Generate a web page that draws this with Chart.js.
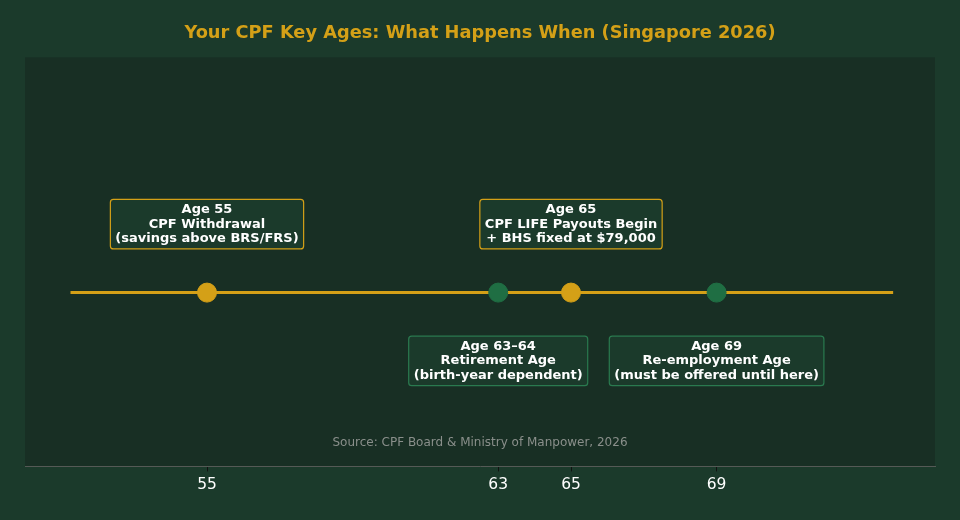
<!DOCTYPE html>
<html>
<head>
<meta charset="utf-8">
<script src="https://cdn.jsdelivr.net/npm/chart.js@4/dist/chart.umd.min.js"></script>
<style>
  html, body { margin: 0; padding: 0; background: #1b3a2b; }
  #wrap { width: 960px; height: 520px; }
</style>
</head>
<body>
<div id="wrap"><canvas id="myChart"></canvas></div>
<script>
  // key ages on the timeline
  const ages = [55, 63, 65, 69];
  const ageColors = ["#d4a017", "#1f6e43", "#d4a017", "#1f6e43"];
  const tickAges = [55, 63, 65, 69];
  const lineSpan = [51.25, 73.85];

  // labels: which age they sit over, text lines, side (1 above, -1 below)
  const labelAges = [55, 65, 63, 69];
  const labelSides = [1, 1, -1, -1];
  const labelBorders = ["#d4a017", "#d4a017", "#2a7a4f", "#2a7a4f"];
  const labelTexts = [
    ["Age 55", "CPF Withdrawal", "(savings above BRS/FRS)"],
    ["Age 65", "CPF LIFE Payouts Begin", "+ BHS fixed at $79,000"],
    ["Age 63\u201364", "Retirement Age", "(birth-year dependent)"],
    ["Age 69", "Re-employment Age", "(must be offered until here)"]
  ];
  const sourceText = "Source: CPF Board & Ministry of Manpower, 2026";

  const bgPlugin = {
    id: "plotBg",
    beforeDraw(chart) {
      const { ctx, chartArea: a } = chart;
      ctx.save();
      ctx.fillStyle = "#182f24";
      ctx.fillRect(a.left, a.top, a.right - a.left, a.bottom - a.top);
      ctx.restore();
    }
  };

  // boxes with text, placed through the scales
  const labelPlugin = {
    id: "boxLabels",
    afterDatasetsDraw(chart) {
      const ctx = chart.ctx;
      const xs = chart.scales.x, ys = chart.scales.y;
      ctx.save();
      ctx.font = "bold 13px 'DejaVu Sans'";
      ctx.textAlign = "center";
      ctx.textBaseline = "middle";
      const lh = 14.5;
      for (let i = 0; i < labelAges.length; i++) {
        const lines = labelTexts[i];
        const cx = xs.getPixelForValue(labelAges[i]);
        const cy = ys.getPixelForValue(0.59 * labelSides[i]);
        let w = 0;
        lines.forEach(t => { w = Math.max(w, ctx.measureText(t).width); });
        const bw = w + 10, bh = lines.length * lh + 6;
        const bx = cx - bw / 2, by = cy - bh / 2;
        ctx.beginPath();
        ctx.roundRect(bx, by, bw, bh, 3);
        ctx.fillStyle = "#1b3a2b";
        ctx.fill();
        ctx.lineWidth = 1.2;
        ctx.strokeStyle = labelBorders[i];
        ctx.stroke();
        ctx.fillStyle = "#ffffff";
        lines.forEach((t, k) => {
          ctx.fillText(t, cx, cy + (k - (lines.length - 1) / 2) * lh);
        });
      }
      // source note
      ctx.font = "12px 'DejaVu Sans'";
      ctx.fillStyle = "#8a8f8b";
      const a = chart.chartArea;
      ctx.fillText(sourceText, (a.left + a.right) / 2, ys.getPixelForValue(-1.3));
      ctx.restore();
    }
  };

  const ctx = document.getElementById("myChart").getContext("2d");
  const myChart = new Chart(ctx, {
    type: "scatter",
    data: {
      datasets: [
        {
          type: "line",
          data: lineSpan.map(v => ({ x: v, y: 0 })),
          borderColor: "#d4a017",
          borderWidth: 3,
          pointRadius: 0,
          order: 2
        },
        {
          data: ages.map(v => ({ x: v, y: 0 })),
          backgroundColor: ageColors,
          borderColor: ageColors,
          pointRadius: 9.5,
          pointHoverRadius: 9.5,
          order: 1
        }
      ]
    },
    options: {
      responsive: true,
      maintainAspectRatio: false,
      animation: false,
      layout: { padding: { left: 25, right: 25, top: 0, bottom: 22 } },
      plugins: {
        legend: { display: false },
        tooltip: { enabled: false },
        title: {
          display: true,
          text: "Your CPF Key Ages: What Happens When (Singapore 2026)",
          color: "#d4a017",
          font: { family: "'DejaVu Sans'", size: 17.8, weight: "bold" },
          padding: { top: 23, bottom: 13 }
        }
      },
      scales: {
        x: {
          type: "linear",
          min: 50,
          max: 75,
          afterBuildTicks(axis) {
            axis.ticks = tickAges.map(v => ({ value: v }));
          },
          grid: { drawOnChartArea: false, drawTicks: true, tickLength: 5, color: "#111111" },
          border: { display: true, color: "#555a56", width: 1 },
          ticks: {
            color: "#ffffff",
            padding: 4,
            font: { family: "'DejaVu Sans'", size: 15.5 }
          }
        },
        y: {
          display: false,
          min: -1.5,
          max: 2.03
        }
      }
    },
    plugins: [bgPlugin, labelPlugin]
  });
</script>
</body>
</html>
